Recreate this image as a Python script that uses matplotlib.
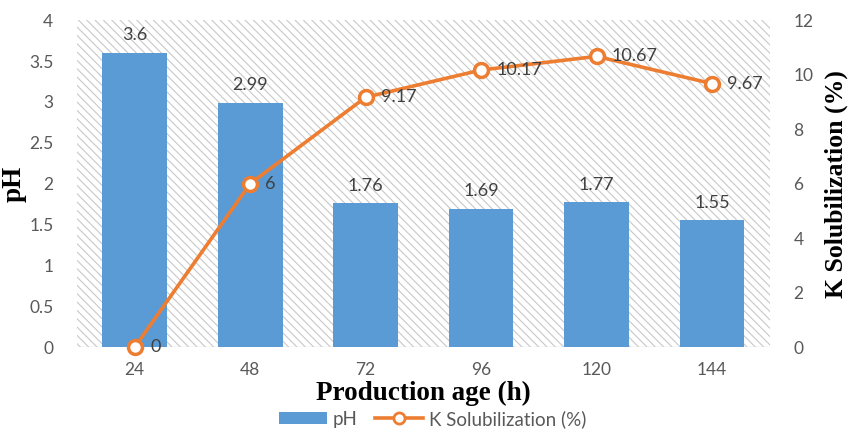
import matplotlib
matplotlib.use("Agg")
import matplotlib.pyplot as plt
from matplotlib.patches import Rectangle
from matplotlib.lines import Line2D

ages = ["24", "48", "72", "96", "120", "144"]
ph = [3.6, 2.99, 1.76, 1.69, 1.77, 1.55]
k_sol = [0, 6, 9.17, 10.17, 10.67, 9.67]
ph_labels = ["3.6", "2.99", "1.76", "1.69", "1.77", "1.55"]
k_labels = ["0", "6", "9.17", "10.17", "10.67", "9.67"]

BAR = "#5B9BD5"
LINE = "#ED7D31"
TICK = "#595959"
LABEL = "#404040"
SANS = "Lato"
SERIF = "Liberation Serif"

plt.rcParams["hatch.linewidth"] = 0.8
plt.rcParams["hatch.color"] = "#c8c8c8"

fig = plt.figure(figsize=(8.48, 4.29), dpi=100)
ax = fig.add_axes([0.0908, 0.191, 0.817, 0.762])
ax2 = ax.twinx()

x = list(range(len(ages)))

# hatched plot-area background
ax.add_patch(Rectangle((0, 0), 1, 1, transform=ax.transAxes, facecolor="white",
                       edgecolor="#c8c8c8", hatch="\\" * 4, linewidth=0, zorder=0))

ax.bar(x, ph, width=0.56, color=BAR, zorder=2)
for xi, v, s in zip(x, ph, ph_labels):
    ax.annotate(s, (xi, v), xytext=(0, 7), textcoords="offset points",
                ha="center", va="bottom", fontsize=13, color=LABEL, family=SANS)

ax.set_xlim(-0.5, len(ages) - 0.5)
ax.set_ylim(0, 4)
ax.set_yticks([0, 0.5, 1, 1.5, 2, 2.5, 3, 3.5, 4])
ax.set_yticklabels(["0", "0.5", "1", "1.5", "2", "2.5", "3", "3.5", "4"])
ax.set_xticks(x)
ax.set_xticklabels(ages)

ax2.plot(x, k_sol, color=LINE, linewidth=2.6, marker="o", markersize=10,
         markerfacecolor="white", markeredgecolor=LINE, markeredgewidth=2.5,
         zorder=3, clip_on=False)
for xi, v, s in zip(x, k_sol, k_labels):
    ax2.annotate(s, (xi, v), xytext=(11, 0), textcoords="offset points",
                 ha="left", va="center", fontsize=13, color=LABEL, family=SANS)
ax2.set_ylim(0, 12)
ax2.set_yticks([0, 2, 4, 6, 8, 10, 12])

for a in (ax, ax2):
    for side in ("top", "left", "right", "bottom"):
        a.spines[side].set_visible(False)
    a.tick_params(length=0, labelsize=12.5, labelcolor=TICK)
    for t in a.get_xticklabels() + a.get_yticklabels():
        t.set_family(SANS)
ax.axhline(0, color="#d9d9d9", linewidth=1.0, zorder=1)
ax.tick_params(axis="y", pad=17)
ax.tick_params(axis="x", pad=11)
ax2.tick_params(axis="y", pad=17)

ax.set_xlabel("Production age (h)", family=SERIF, fontweight="bold",
              fontsize=19.5, labelpad=2, color="black")
ax.set_ylabel("pH", family=SERIF, fontweight="bold", fontsize=19.5,
              labelpad=2, color="black")
ax2.set_ylabel("K Solubilization (%)", family=SERIF, fontweight="bold",
               fontsize=18.5, labelpad=8, color="black")

handles = [
    Rectangle((0, 0), 1, 1, facecolor=BAR, edgecolor="none"),
    Line2D([], [], color=LINE, linewidth=2.6, marker="o", markersize=8,
           markerfacecolor="white", markeredgecolor=LINE, markeredgewidth=2),
]
fig.legend(handles, ["pH", "K Solubilization (%)"], loc="center",
           bbox_to_anchor=(0.51, 0.024), ncol=2, frameon=False,
           prop={"family": SANS, "size": 13.5}, labelcolor=TICK,
           handlelength=2.6, handleheight=0.6, columnspacing=0.9,
           handletextpad=0.3)

fig.savefig("out.png", dpi=100)
